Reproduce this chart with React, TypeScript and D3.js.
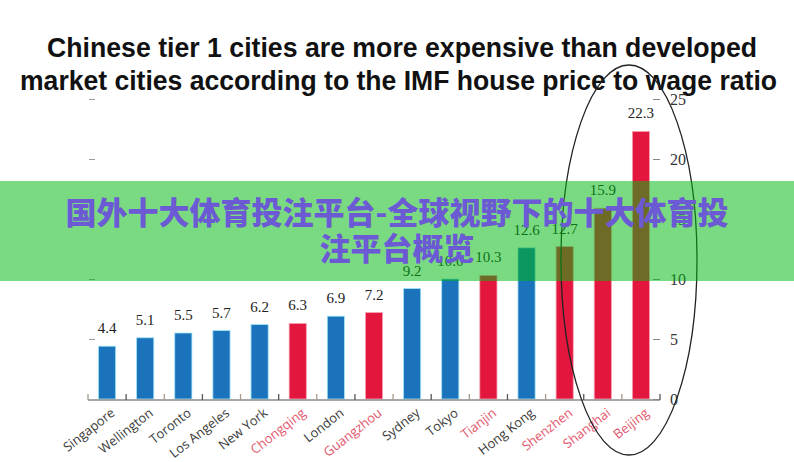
import React, { useEffect, useRef } from 'react';
import * as d3 from 'd3';

// house price to wage ratio
const cities = [
  'Singapore', 'Wellington', 'Toronto', 'Los Angeles', 'New York', 'Chongqing', 'London',
  'Guangzhou', 'Sydney', 'Tokyo', 'Tianjin', 'Hong Kong', 'Shenzhen', 'Shanghai', 'Beijing',
];
const ratios = [4.4, 5.1, 5.5, 5.7, 6.2, 6.3, 6.9, 7.2, 9.2, 10.0, 10.3, 12.6, 12.7, 15.9, 22.3];
const chinese = ['Chongqing', 'Guangzhou', 'Tianjin', 'Shenzhen', 'Shanghai', 'Beijing'];
const yTicks = [0, 5, 10, 15, 20, 25];
const titleLines = [
  'Chinese tier 1 cities are more expensive than developed',
  'market cities according to the IMF house price to wage ratio',
];
const bannerLines = ['国外十大体育投注平台-全球视野下的十大体育投', '注平台概览'];

const BLUE = '#1a73bb';
const RED = '#e3173e';

const Chart: React.FC = () => {
  const svgRef = useRef<SVGSVGElement>(null);

  useEffect(() => {
    if (!svgRef.current) return;
    const width = 794;
    const height = 462;

    const svg = d3.select(svgRef.current)
      .attr('width', width)
      .attr('height', height);

    svg.selectAll('*').remove();

    svg.append('rect')
      .attr('width', width)
      .attr('height', height)
      .style('fill', 'white');

    const data = cities.map((c, i) => ({ city: c, value: ratios[i], cn: chinese.includes(c) }));

    const x = d3.scaleBand<string>()
      .domain(cities)
      .range([88, 660])
      .paddingInner(0.55)
      .paddingOuter(0.275);

    const y = d3.scaleLinear().domain([0, 25]).range([399, 99]);

    // faint left ticks, no labels
    svg.append('g')
      .attr('transform', 'translate(95,0)')
      .call(d3.axisLeft(y).tickValues(yTicks.slice(1)).tickSize(6).tickFormat(() => ''))
      .call(g => g.select('.domain').remove())
      .call(g => g.selectAll('line').attr('stroke', '#999'));

    // right axis
    const right = svg.append('g')
      .attr('transform', 'translate(653,0)')
      .call(d3.axisRight(y).tickValues(yTicks).tickSize(7).tickPadding(10).tickFormat(d3.format('d')));
    right.select('.domain').remove();
    right.selectAll('line').attr('stroke', '#888');
    right.selectAll('text')
      .style('font-family', '"Liberation Serif", serif')
      .style('font-size', '16px')
      .style('fill', '#333');

    // bars
    svg.selectAll('.bar')
      .data(data)
      .enter().append('rect')
      .attr('class', 'bar')
      .attr('x', d => x(d.city)!)
      .attr('width', x.bandwidth())
      .attr('y', d => y(d.value))
      .attr('height', d => y(0) - y(d.value))
      .style('fill', d => d.cn ? RED : BLUE)
      .style('stroke', d => d.cn ? '#f6a3b3' : '#9fe3f7')
      .style('stroke-width', 0.8);

    // value labels
    svg.selectAll('.val')
      .data(data)
      .enter().append('text')
      .attr('class', 'val')
      .attr('x', d => x(d.city)! + x.bandwidth() / 2)
      .attr('y', d => y(d.value) - 13)
      .attr('text-anchor', 'middle')
      .style('font-family', '"Liberation Serif", serif')
      .style('font-size', '15px')
      .style('fill', '#222')
      .text(d => d.value.toFixed(1));

    // x axis line with ticks between bars
    const gap = (x.step() - x.bandwidth()) / 2;
    const bounds = cities.map(c => x(c)! - gap).concat([x(cities[cities.length - 1])! + x.bandwidth() + gap]);
    svg.append('line')
      .attr('x1', bounds[0]).attr('x2', bounds[bounds.length - 1])
      .attr('y1', y(0) + 1).attr('y2', y(0) + 1)
      .style('stroke', '#8a8a8a')
      .style('stroke-width', 1.5);
    svg.selectAll('.xt')
      .data(bounds)
      .enter().append('line')
      .attr('class', 'xt')
      .attr('x1', d => d).attr('x2', d => d)
      .attr('y1', y(0) + 1).attr('y2', y(0) - 5)
      .style('stroke', (d, i) => i % 2 ? '#555' : '#a89a8a')
      .style('stroke-width', 1.3);

    // city labels
    svg.selectAll('.xl')
      .data(data)
      .enter().append('text')
      .attr('class', 'xl')
      .attr('transform', d => `translate(${x(d.city)! + x.bandwidth() / 2 + 6},${y(0) + 12}) rotate(-38)`)
      .attr('text-anchor', 'end')
      .attr('dy', '0.35em')
      .style('font-family', '"Open Sans", sans-serif')
      .style('font-size', '13px')
      .style('fill', d => d.cn ? '#e2566c' : '#3a3a3a')
      .text(d => d.city);

    // title
    svg.selectAll('.title')
      .data(titleLines)
      .enter().append('text')
      .attr('class', 'title')
      .attr('x', (d, i) => i === 0 ? 47 : 20)
      .attr('y', (d, i) => 57 + i * 33)
      .attr('textLength', (d, i) => i === 0 ? 710 : 757)
      .attr('lengthAdjust', 'spacingAndGlyphs')
      .style('font-family', '"Liberation Sans Narrow", "Liberation Sans", Arial, sans-serif')
      .style('font-weight', 'bold')
      .style('font-size', '27px')
      .style('fill', '#111')
      .text(d => d);

    // ellipse round the top three Chinese cities
    svg.append('ellipse')
      .attr('cx', 629)
      .attr('cy', 260)
      .attr('rx', 68)
      .attr('ry', 195)
      .style('fill', 'none')
      .style('stroke', '#222')
      .style('stroke-width', 1.3);

    // green banner over the chart
    svg.append('rect')
      .attr('x', 0)
      .attr('y', 181)
      .attr('width', width)
      .attr('height', 100)
      .style('fill', 'rgb(0,185,15)')
      .style('fill-opacity', 0.52);

    svg.selectAll('.banner')
      .data(bannerLines)
      .enter().append('text')
      .attr('class', 'banner')
      .attr('x', width / 2)
      .attr('y', (d, i) => 224 + i * 36)
      .attr('text-anchor', 'middle')
      .style('font-family', '"Noto Sans CJK SC", sans-serif')
      .style('font-weight', 900)
      .style('font-size', '31px')
      .style('fill', '#6c59d4')
      .text(d => d);
  }, []);

  return (
    <svg ref={svgRef} style={{ position: 'absolute', left: 0, top: 0 }}></svg>
  );
};

export default function App() {
  return (
    <div>
      <Chart />
    </div>
  );
}
